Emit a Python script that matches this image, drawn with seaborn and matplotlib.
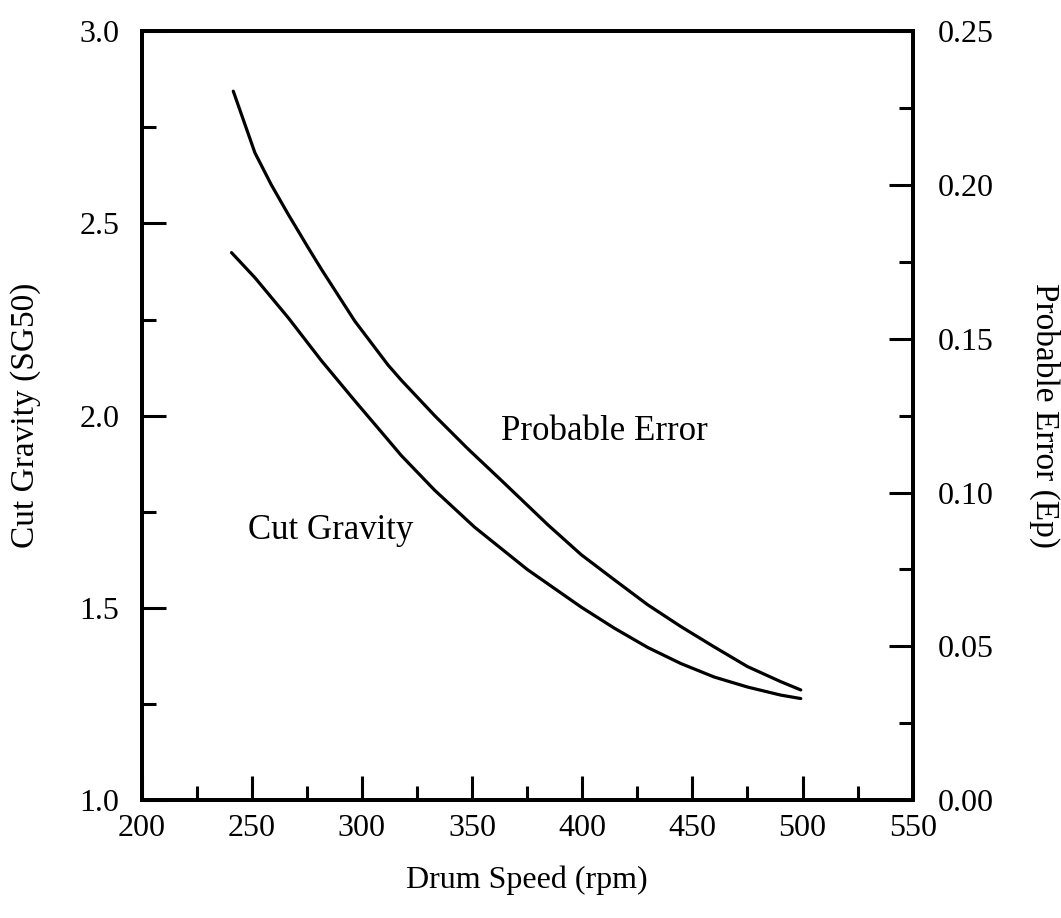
import matplotlib
matplotlib.use("Agg")
import matplotlib.pyplot as plt
import seaborn as sns
import pandas as pd
from matplotlib.ticker import MultipleLocator, FormatStrFormatter

# Data
cg_speed = [240.8, 251.4, 266.5, 281.6, 296.7, 311.1, 317.9, 333.0, 351.1, 375.0, 399.5, 414.6, 429.7, 444.8, 459.9, 475.0, 490.1, 499.2]
cut_gravity = [2.424, 2.359, 2.255, 2.143, 2.039, 1.942, 1.896, 1.806, 1.710, 1.600, 1.502, 1.447, 1.397, 1.355, 1.320, 1.294, 1.273, 1.264]
pe_speed = [241.6, 251.4, 258.9, 266.5, 275.6, 281.6, 296.7, 311.8, 317.9, 333.0, 348.1, 363.2, 384.4, 399.5, 414.6, 429.7, 444.8, 459.9, 475.0, 490.1, 499.2]
probable_error = [0.2305, 0.2105, 0.2000, 0.1905, 0.1796, 0.1726, 0.1558, 0.1415, 0.1365, 0.1250, 0.1142, 0.1040, 0.0895, 0.0798, 0.0716, 0.0635, 0.0564, 0.0498, 0.0434, 0.0385, 0.0358]

x_label = "Drum Speed (rpm)"
y_left_label = "Cut Gravity (SG50)"
y_right_label = "Probable Error (Ep)"

sns.set_style("ticks")
plt.rcParams['font.family'] = ['Liberation Serif', 'DejaVu Serif']
plt.rcParams['text.color'] = 'black'
plt.rcParams['axes.labelcolor'] = 'black'
plt.rcParams['xtick.color'] = 'black'
plt.rcParams['ytick.color'] = 'black'

fig = plt.figure(figsize=(10.61, 9.18), dpi=100)
ax = fig.add_axes([0.1335, 0.1285, 0.7267, 0.8375])
ax2 = ax.twinx()

df_cg = pd.DataFrame({"speed": cg_speed, "val": cut_gravity})
df_pe = pd.DataFrame({"speed": pe_speed, "val": probable_error})
sns.lineplot(data=df_cg, x="speed", y="val", ax=ax, color="black", lw=2.3)
sns.lineplot(data=df_pe, x="speed", y="val", ax=ax2, color="black", lw=2.3)

ax.set_xlim(200, 550)
ax.set_ylim(1.0, 3.0)
ax2.set_ylim(0.0, 0.25)

ax.xaxis.set_major_locator(MultipleLocator(50))
ax.xaxis.set_minor_locator(MultipleLocator(25))
ax.yaxis.set_major_locator(MultipleLocator(0.5))
ax.yaxis.set_minor_locator(MultipleLocator(0.25))
ax.yaxis.set_major_formatter(FormatStrFormatter('%.1f'))
ax2.yaxis.set_major_locator(MultipleLocator(0.05))
ax2.yaxis.set_minor_locator(MultipleLocator(0.025))
ax2.yaxis.set_major_formatter(FormatStrFormatter('%.2f'))

for a in (ax, ax2):
    for s in a.spines.values():
        s.set_linewidth(2.8)
        s.set_color("black")
        s.set_visible(True)

ax.tick_params(axis='both', which='major', direction='in', length=17, width=2.2, labelsize=23)
ax.tick_params(axis='both', which='minor', direction='in', length=10, width=2.2)
ax.tick_params(axis='y', right=False, which='both', pad=16)
ax.tick_params(axis='x', top=False, which='both', pad=10)
ax2.tick_params(axis='y', which='major', direction='in', length=17, width=2.2, labelsize=23, pad=18)
ax2.tick_params(axis='y', which='minor', direction='in', length=10, width=2.2)

ax.set_xlabel(x_label, fontsize=23, labelpad=16)
ax.set_ylabel(y_left_label, fontsize=24, labelpad=28)
ax2.set_ylabel(y_right_label, fontsize=24, rotation=270, labelpad=48)

ax.text(363, 1.96, "Probable Error", fontsize=25, va='center', ha='left')
ax.text(248.5, 1.70, "Cut Gravity", fontsize=25, va='center', ha='left')

ax.grid(False)
ax2.grid(False)
fig.savefig("out.png", dpi=100, facecolor="white")
